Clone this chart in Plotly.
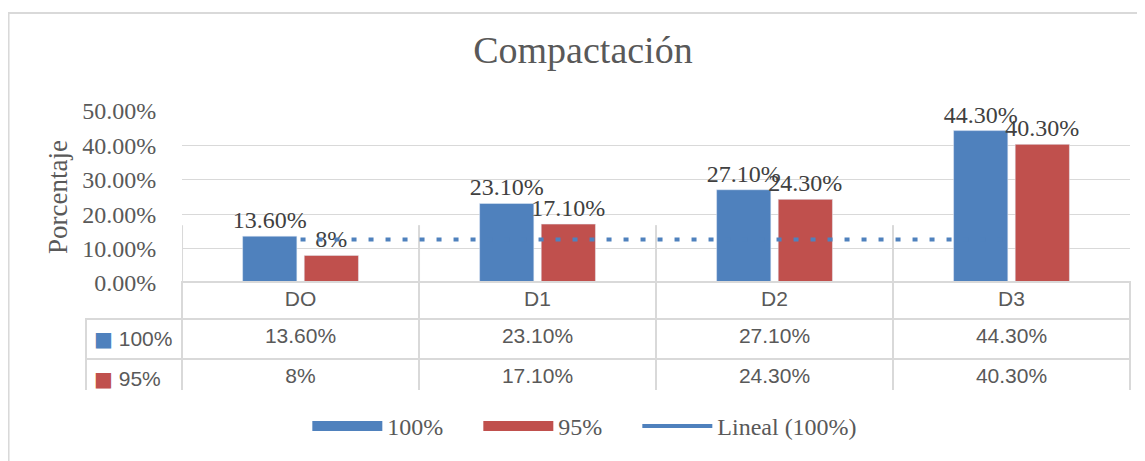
import plotly.graph_objects as go

# --- data ---
categories = ["DO", "D1", "D2", "D3"]
values_100 = [13.6, 23.1, 27.1, 44.3]
values_95 = [8.0, 17.1, 24.3, 40.3]
labels_100 = ["13.60%", "23.10%", "27.10%", "44.30%"]
labels_95 = ["8%", "17.10%", "24.30%", "40.30%"]
trend_100 = [12.6, 12.6, 12.6, 12.6]  # "Lineal (100%)" as drawn in the source
y_ticks = [0, 10, 20, 30, 40, 50]
y_ticktext = ["0.00%", "10.00%", "20.00%", "30.00%", "40.00%", "50.00%"]

BLUE = "#4F81BD"
RED = "#C0504D"
GRID = "#D9D9D9"
TXT = "#595959"
SERIF = "Liberation Serif, Times New Roman, serif"
SANS = "Liberation Sans, Arial, sans-serif"
PAD = "\u00a0" * 5  # spacing between legend entries

fig = go.Figure()

for vals, labels, name, color in [(values_100, labels_100, "100%", BLUE),
                                  (values_95, labels_95, "95%", RED)]:
    fig.add_trace(go.Bar(
        x=categories, y=vals, name=name, marker_color=color,
        text=labels, textposition="outside", cliponaxis=False, constraintext="none",
        textfont=dict(family=SERIF, size=24, color="#404040"),
        showlegend=False,
    ))

fig.add_trace(go.Scatter(
    x=categories, y=trend_100, mode="lines", name="Lineal (100%)",
    line=dict(color=BLUE, width=4, dash="5px,12px"), showlegend=False,
))

# legend entries (wide swatches like the Excel legend)
for name, color, width in [("100%" + PAD, BLUE, 12), ("95%" + PAD, RED, 12),
                           ("Lineal (100%)", BLUE, 4)]:
    fig.add_trace(go.Scatter(x=[None], y=[None], mode="lines", name=name,
                             line=dict(color=color, width=width)))


# --- data table under the chart ---
def key(color, label):
    # the <br> stops plotly from word-wrapping (and breaking) the markup
    return (f"<span style='color:{color};font-family:DejaVu Sans;font-size:20px'>■</span>"
            f" {label}<br>")


cell_cols = [[key(BLUE, "100%"), key(RED, "95%")]]
for a, b in zip(labels_100, labels_95):
    cell_cols.append([a, b])

fig.add_trace(go.Table(
    domain=dict(x=[0, 1], y=[0, 0.389]),
    columnwidth=[96, 237, 237, 237, 237],
    header=dict(
        values=[""] + categories, height=37, align="center",
        fill_color=["rgba(0,0,0,0)"] + ["white"] * 4,
        line=dict(color=["rgba(0,0,0,0)"] + [GRID] * 4, width=2),
        font=dict(family=SANS, size=21, color=TXT),
    ),
    cells=dict(
        values=cell_cols, height=37,
        align=["left", "center", "center", "center", "center"],
        fill_color="white", line=dict(color=GRID, width=2),
        font=dict(family=SANS, size=21, color=TXT),
    ),
))

# short vertical category separators above the table
for b in [-0.5, 0.5, 1.5, 2.5]:
    fig.add_shape(type="line", xref="x", yref="y", x0=b, x1=b, y0=0, y1=16.8,
                  line=dict(color=GRID, width=2), layer="below")

# chart frame
fig.add_shape(type="rect", xref="paper", yref="paper", x0=-0.0742, x1=1.05,
              y0=-0.45, y1=1.35, line=dict(color=GRID, width=2), layer="below")

fig.update_layout(
    width=1137, height=453,
    margin=dict(l=78, r=15, t=103, b=65),
    paper_bgcolor="white", plot_bgcolor="white",
    barmode="group", bargap=0.48, bargroupgap=0.12,
    title=dict(text="Compactación", x=0.476, xref="paper", y=0.908, yref="container",
               xanchor="center", yanchor="middle",
               font=dict(family=SERIF, size=38, color=TXT)),
    xaxis=dict(domain=[0.092, 1], showticklabels=False, showgrid=False, zeroline=False,
               showline=True, linecolor=GRID, linewidth=2, range=[-0.5, 3.5],
               automargin=False),
    yaxis=dict(domain=[0.386, 1], range=[0, 50], tickvals=y_ticks, ticktext=y_ticktext,
               showgrid=True, gridcolor=GRID, gridwidth=1, zeroline=False, showline=False,
               ticks="outside", ticklen=20, tickcolor="rgba(0,0,0,0)", automargin=False,
               tickfont=dict(family=SERIF, size=24, color=TXT),
               title=dict(text="Porcentaje", standoff=6,
                          font=dict(family=SERIF, size=27, color=TXT))),
    legend=dict(orientation="h", x=0.212, xanchor="left", y=-0.126, yanchor="middle",
                itemwidth=70, font=dict(family=SERIF, size=24, color=TXT),
                bgcolor="rgba(0,0,0,0)"),
)

fig.write_html("out.html")
